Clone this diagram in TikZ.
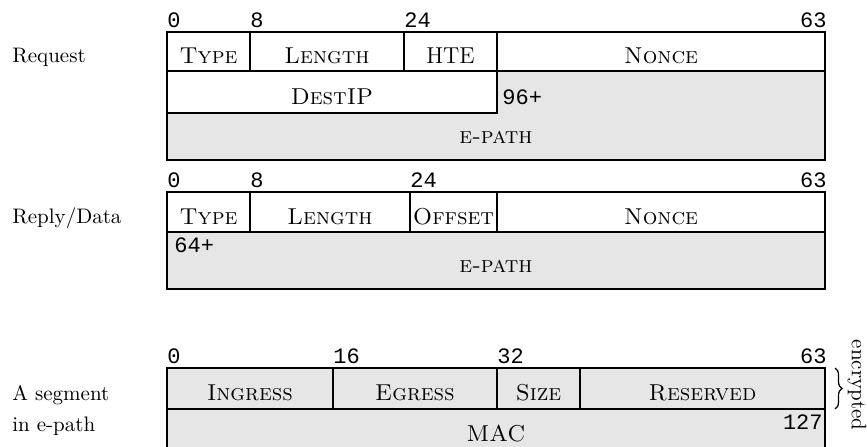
\documentclass[tikz,border=0pt]{standalone}
\usepackage{fontspec}
\setmonofont{Liberation Mono}
\usetikzlibrary{positioning, decorations.pathreplacing}

\newcommand{\pktsize}{\fontsize{10.5}{13}\selectfont}
\newcommand{\fieldsize}{\fontsize{11.5}{14}\selectfont}
\definecolor{fieldgray}{HTML}{E6E6E6}

\begin{document}
\begin{tikzpicture}[
    x=0.5pt, y=-0.5pt,
    field/.style={draw, line width=1pt, inner sep=0pt, outer sep=0pt,
                  minimum height=20pt, text height=12pt, text depth=0pt,
                  anchor=north west, font=\fieldsize\scshape},
    grayfield/.style={field, fill=fieldgray},
    fieldtext/.style={inner sep=0pt, font=\fieldsize\scshape},
    bitnum/.style={font=\fontsize{11}{13}\selectfont\ttfamily,
                   inner xsep=0pt, inner ysep=2pt},
    rowname/.style={anchor=base west, inner sep=0pt, font=\pktsize}
]
\useasboundingbox (0,0) rectangle (867,446);

% Request
\node[rowname] (reqname) at (12,62) {Request};
\node[field, minimum width=41.5pt, minimum height=19.5pt] (reqtype) at (167,32) {Type};
\node[field, minimum width=77pt, minimum height=19.5pt, right=0pt of reqtype] (reqlen) {Length};
\node[field, minimum width=46.5pt, minimum height=19.5pt, right=0pt of reqlen] (reqhte) {\upshape HTE};
\node[field, minimum width=164pt, minimum height=19.5pt, right=0pt of reqhte] (reqnonce) {Nonce};
\node[grayfield, minimum width=329pt, minimum height=44.5pt,
      below=0pt of reqtype.south west, anchor=north west] (reqepath) {};
\node[field, fill=white, minimum width=165pt, minimum height=21pt,
      below=0pt of reqtype.south west, anchor=north west] (reqdest) {DestIP};
\node[fieldtext, anchor=base] (reqepathtxt) at ([yshift=8.5pt]reqepath.south) {e-path};
\node[bitnum, anchor=base west] (req96) at ([xshift=2.5pt,yshift=-16.5pt]reqdest.north east) {96+};

\node[bitnum, anchor=south west] (req0) at (reqtype.north west) {0};
\node[bitnum, anchor=south west] (req8) at (reqlen.north west) {8};
\node[bitnum, anchor=south west] (req24) at (reqhte.north west) {24};
\node[bitnum, anchor=south east] (req63) at ([xshift=1pt]reqnonce.north east) {63};

% Reply / Data
\node[rowname] (repname) at (12,223) {Reply/Data};
\node[field, minimum width=41.5pt] (reptype) at (167,192) {Type};
\node[field, minimum width=80pt, right=0pt of reptype] (replen) {Length};
\node[field, minimum width=43.5pt, right=0pt of replen] (repoff) {Offset};
\node[field, minimum width=164pt, right=0pt of repoff] (repnonce) {Nonce};
\node[grayfield, minimum width=329pt, minimum height=28.5pt,
      below=0pt of reptype.south west, anchor=north west] (repepath) {e-path};
\node[bitnum, anchor=base west] (rep64) at ([xshift=3.5pt,yshift=-10pt]repepath.north west) {64+};

\node[bitnum, anchor=south west] (rep0) at (reptype.north west) {0};
\node[bitnum, anchor=south west] (rep8) at (replen.north west) {8};
\node[bitnum, anchor=south west] (rep24) at (repoff.north west) {24};
\node[bitnum, anchor=south east] (rep63) at ([xshift=1pt]repnonce.north east) {63};

% segment in e-path
\node[rowname] (segname) at (12,400) {A segment};
\node[rowname] (segname2) at (12,431) {in e-path};
\node[grayfield, minimum width=83pt, minimum height=20.5pt] (segin) at (167,368) {Ingress};
\node[grayfield, minimum width=82pt, minimum height=20.5pt, right=0pt of segin] (segeg) {Egress};
\node[grayfield, minimum width=41.5pt, minimum height=20.5pt, right=0pt of segeg] (segsize) {Size};
\node[grayfield, minimum width=122.5pt, minimum height=20.5pt, right=0pt of segsize] (segres) {Reserved};
\node[grayfield, minimum width=329pt, minimum height=20.5pt,
      below=0pt of segin.south west, anchor=north west] (segmac) {MAC};
\node[bitnum, anchor=base east] (seg127) at ([xshift=-1pt,yshift=-10pt]segmac.north east) {127};

\node[bitnum, anchor=south west] (seg0) at (segin.north west) {0};
\node[bitnum, anchor=south west] (seg16) at (segeg.north west) {16};
\node[bitnum, anchor=south west] (seg32) at (segsize.north west) {32};
\node[bitnum, anchor=south east] (seg63) at ([xshift=1pt]segres.north east) {63};

\draw[decorate, decoration={brace, amplitude=3.5pt}, line width=0.6pt]
    ([xshift=5pt]segres.north east) -- ([xshift=5pt]segres.south east);
\node[rotate=-90, inner sep=0pt, font=\pktsize] (enc) at (857,385) {encrypted};
\end{tikzpicture}
\end{document}
